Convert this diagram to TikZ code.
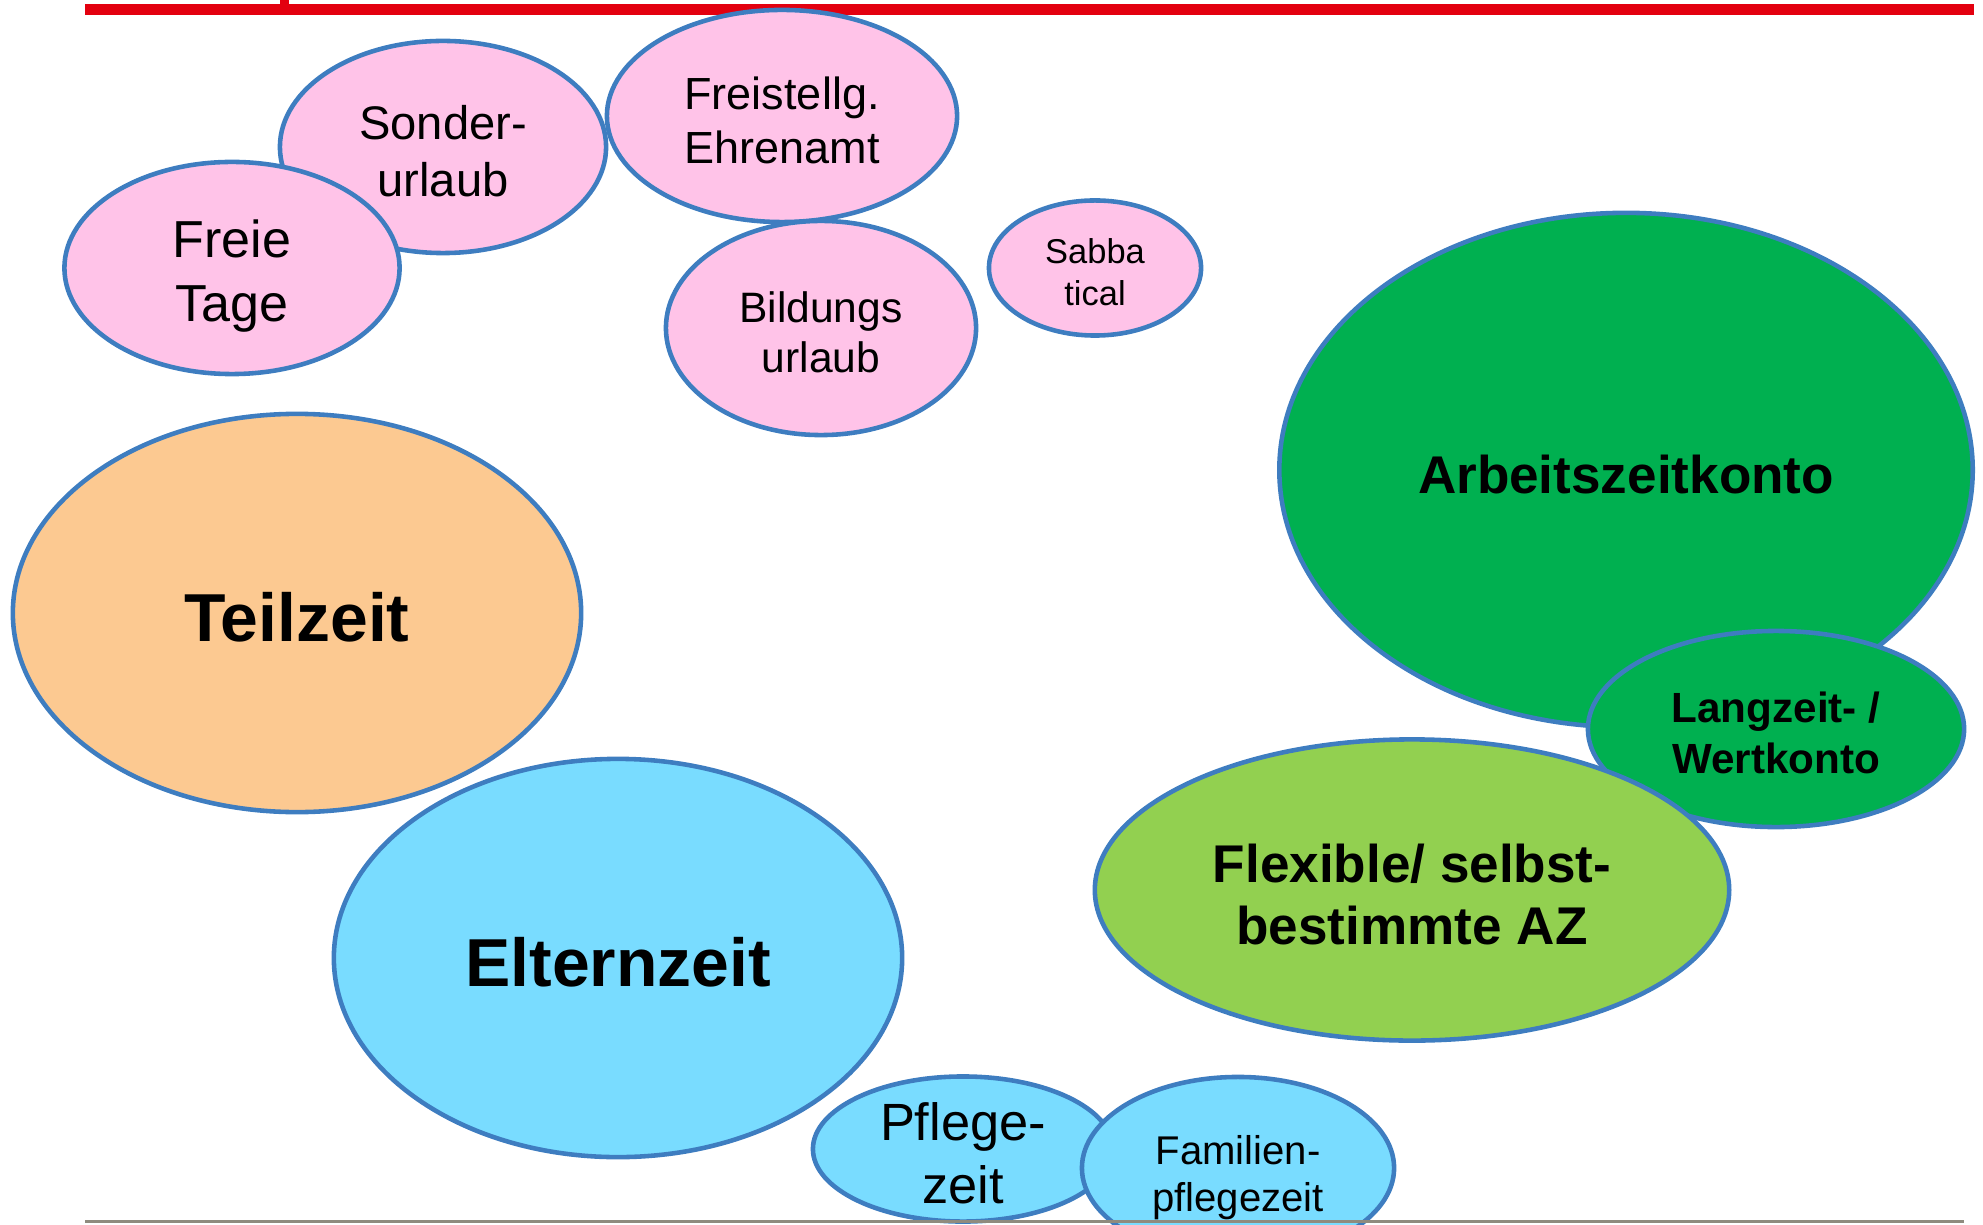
\documentclass[tikz,border=0pt]{standalone}
\usepackage{fontspec}
\setmainfont{Liberation Sans}
\usepackage{tikz}
\usetikzlibrary{shapes.geometric}
\definecolor{rimblue}{HTML}{3E7DC0}
\definecolor{barred}{HTML}{E3000F}
\definecolor{footgray}{HTML}{8F8B7E}
\definecolor{pinkfill}{HTML}{FFC3E8}
\definecolor{orangefill}{HTML}{FCC991}
\definecolor{skyfill}{HTML}{79DCFF}
\definecolor{darkgreen}{HTML}{00B050}
\definecolor{lightgreen}{HTML}{92D050}
\tikzstyle{bubble}=[draw=rimblue, line width=1.3pt, shape=ellipse, inner sep=0pt]
\tikzstyle{txt}=[align=center, inner sep=0pt, text=black, yshift=-1.2pt]
\newcommand{\fs}[2]{\fontsize{#1}{#2}\selectfont}

\begin{document}
\begin{tikzpicture}[x=0.01cm, y=-0.01cm]
\clip (0,0) rectangle (1983,1225);
% the red bar on top
\fill[barred] (85,4) rectangle (1974,15);
\fill[barred] (280,0) rectangle (289,4);
% the pink bubbles
\node[bubble, fill=pinkfill, minimum width=3.26cm, minimum height=2.12cm] (sonder) at (443,147) {};
\node[bubble, fill=pinkfill, minimum width=3.35cm, minimum height=2.12cm] (freie) at (232,268) {};
\node[bubble, fill=pinkfill, minimum width=3.50cm, minimum height=2.12cm] (ehren) at (782,116) {};
\node[bubble, fill=pinkfill, minimum width=3.10cm, minimum height=2.14cm] (bildung) at (821,328) {};
\node[bubble, fill=pinkfill, minimum width=2.12cm, minimum height=1.35cm] (sabbat) at (1095,268) {};
% the green bubbles
\node[bubble, fill=darkgreen, minimum width=6.93cm, minimum height=5.14cm] (azk) at (1626,470) {};
\node[bubble, fill=darkgreen, minimum width=3.76cm, minimum height=1.96cm] (langzeit) at (1776,729) {};
\node[bubble, fill=lightgreen, minimum width=6.34cm, minimum height=3.01cm] (flex) at (1412,890) {};
% the big ones on the left
\node[bubble, fill=orangefill, minimum width=5.68cm, minimum height=3.98cm] (teilzeit) at (297,613) {};
\node[bubble, fill=skyfill, minimum width=5.68cm, minimum height=3.98cm] (eltern) at (618,958) {};
% the care bubbles
\node[bubble, fill=skyfill, minimum width=3.00cm, minimum height=1.45cm] (pflege) at (963,1149) {};
\node[bubble, fill=skyfill, minimum width=3.12cm, minimum height=1.82cm] (familie) at (1238,1168) {};
% the texts
\node[txt, font=\fs{13.4}{16.2}] (sonder-t) at (sonder) {Sonder-\\urlaub};
\node[txt, font=\fs{14.8}{18.3}, yshift=-1pt] (freie-t) at (freie) {Freie\\Tage};
\node[txt, font=\fs{12.8}{15.4}] (ehren-t) at (ehren) {Freistellg.\\Ehrenamt};
\node[txt, font=\fs{12.1}{14.4}] (bildung-t) at (bildung) {Bildungs\\urlaub};
\node[txt, font=\fs{9.8}{12.2}] (sabbat-t) at (sabbat) {Sabba\\tical};
\node[txt, font=\fs{15.1}{18}\bfseries] (azk-t) at (azk) {Arbeitszeitkonto};
\node[txt, font=\fs{12}{14.4}\bfseries] (langzeit-t) at (langzeit) {Langzeit- /\\Wertkonto};
\node[txt, font=\fs{15.1}{17.6}\bfseries] (flex-t) at (flex) {Flexible/ selbst-\\bestimmte AZ};
\node[txt, font=\fs{19.3}{23}\bfseries] (teilzeit-t) at (teilzeit) {Teilzeit};
\node[txt, font=\fs{19.3}{23}\bfseries] (eltern-t) at (eltern) {Elternzeit};
\node[txt, font=\fs{14.9}{17.9}] (pflege-t) at (pflege) {Pflege-\\zeit};
\node[txt, font=\fs{11.4}{13.4}, yshift=-1.6pt] (familie-t) at (familie) {Familien-\\pflegezeit};
% the footer line
\fill[footgray] (85,1220) rectangle (1964,1223);
\end{tikzpicture}
\end{document}
